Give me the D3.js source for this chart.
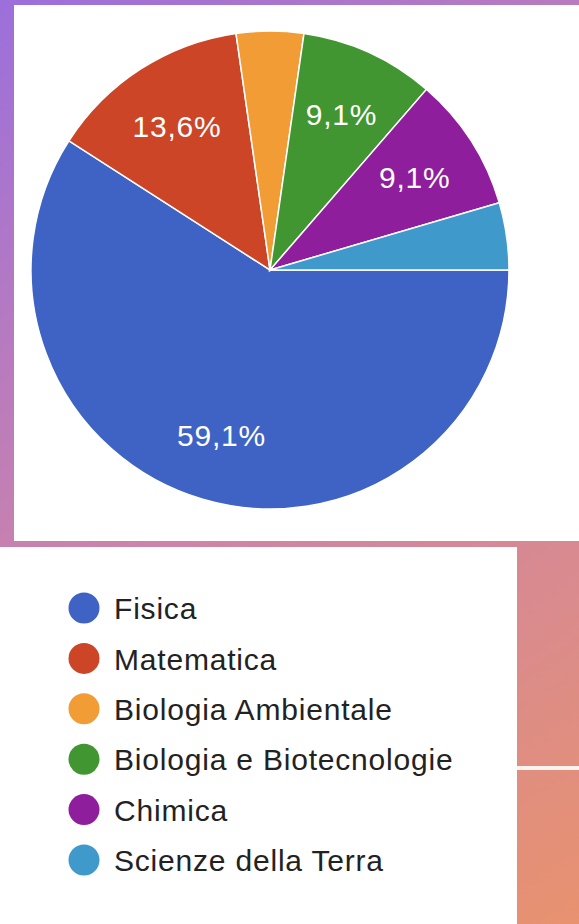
<!DOCTYPE html>
<html>
<head>
<meta charset="utf-8">
<script src="https://cdn.jsdelivr.net/npm/d3@7"></script>
<style>
  html, body { margin: 0; padding: 0; }
  body { width: 579px; height: 924px; overflow: hidden; }
  svg text { font-family: "Liberation Sans", Arial, sans-serif; }
</style>
</head>
<body>
<svg id="chart" width="579" height="924"></svg>
<script>
// risposte per corso di laurea
const categories = ['Fisica', 'Matematica', 'Biologia Ambientale', 'Biologia e Biotecnologie', 'Chimica', 'Scienze della Terra'];
const counts = [13, 3, 1, 2, 2, 1];
const colors = ['#3f63c5', '#cc4527', '#f19c34', '#419632', '#8e1e9c', '#3f9acb'];

const width = 579;
const height = 924;

const svg = d3.select('#chart');

// background gradient + panels
const defs = svg.append('defs');
const grad = defs.append('linearGradient')
  .attr('id', 'bg')
  .attr('gradientUnits', 'userSpaceOnUse')
  .attr('x1', 0).attr('y1', 0)
  .attr('x2', width).attr('y2', height);
grad.append('stop').attr('offset', '0%').attr('stop-color', '#9c6fdb');
grad.append('stop').attr('offset', '50%').attr('stop-color', '#cd84a8');
grad.append('stop').attr('offset', '100%').attr('stop-color', '#e8926f');

svg.append('rect')
  .attr('width', width)
  .attr('height', height)
  .attr('fill', 'url(#bg)');

svg.append('rect')
  .attr('x', 14).attr('y', 5)
  .attr('width', width - 14).attr('height', 536)
  .attr('fill', '#fff');

svg.append('rect')
  .attr('x', 0).attr('y', 547)
  .attr('width', 517).attr('height', height - 547)
  .attr('fill', '#fff');

svg.append('rect')
  .attr('x', 517).attr('y', 766)
  .attr('width', width - 517).attr('height', 4)
  .attr('fill', '#fbf3ee');

// pie
const cx = 270;
const cy = 270;
const radius = 239;

const total = d3.sum(counts);
const it = d3.formatLocale({decimal: ',', thousands: '.', grouping: [3], currency: ['', '€']});
const fmt = it.format('.1f');

const pie = d3.pie()
  .sort(null)
  .startAngle(Math.PI / 2)
  .endAngle(Math.PI / 2 + 2 * Math.PI);

const arcs = pie(counts);

const arc = d3.arc().innerRadius(0).outerRadius(radius);
const labelArc = d3.arc().innerRadius(172).outerRadius(172);

const g = svg.append('g').attr('transform', `translate(${cx},${cy})`);

g.selectAll('path')
  .data(arcs)
  .enter()
  .append('path')
  .attr('d', arc)
  .attr('fill', (d, i) => colors[i])
  .attr('stroke', '#fff')
  .attr('stroke-width', 1.5);

g.selectAll('text.pct')
  .data(arcs.filter(d => d.value / total >= 0.05))
  .enter()
  .append('text')
  .attr('class', 'pct')
  .attr('transform', d => `translate(${labelArc.centroid(d)})`)
  .attr('text-anchor', 'middle')
  .attr('dy', '0.38em')
  .attr('fill', '#fff')
  .style('font-size', '30px')
  .style('letter-spacing', '0.8px')
  .text(d => fmt(d.value / total * 100) + '%');

// legend
const legendY = d3.scalePoint()
  .domain(categories)
  .range([608, 860]);

const legend = svg.append('g')
  .selectAll('g')
  .data(categories)
  .enter()
  .append('g')
  .attr('transform', d => `translate(0,${legendY(d)})`);

legend.append('circle')
  .attr('cx', 84)
  .attr('r', 15.5)
  .attr('fill', (d, i) => colors[i]);

legend.append('text')
  .attr('x', 114)
  .attr('dy', '0.37em')
  .attr('fill', '#222')
  .style('font-size', '30px')
  .style('letter-spacing', '0.8px')
  .text(d => d);
</script>
</body>
</html>
